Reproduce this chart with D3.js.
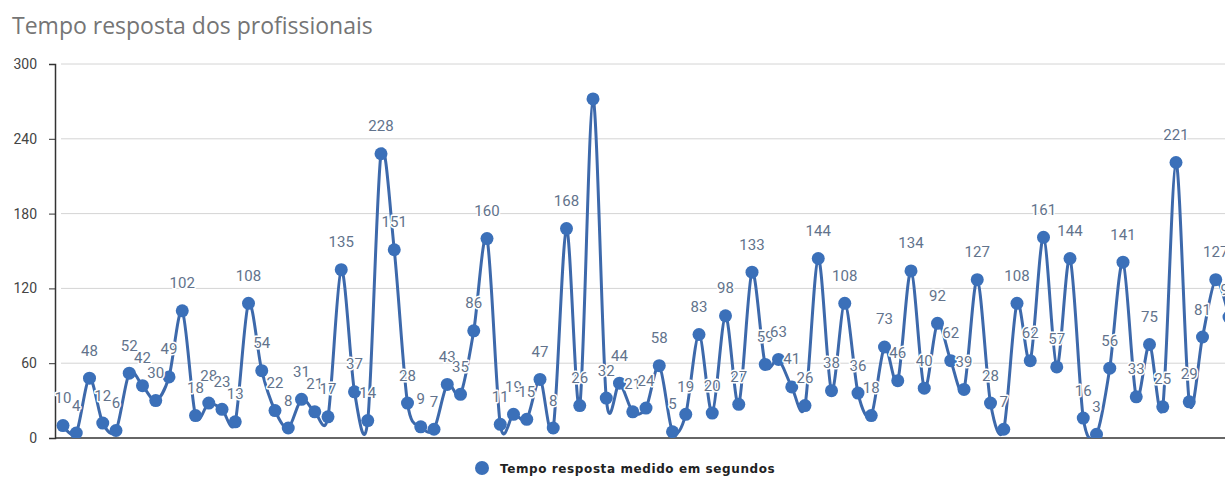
<!DOCTYPE html>
<html>
<head>
<meta charset="utf-8">
<script src="https://cdn.jsdelivr.net/npm/d3@7"></script>
<style>
    body { margin: 0; background: #fff; }
    svg { display: block; }
    .axis text { font-family: Roboto, sans-serif; font-size: 14px; fill: #444; }
    .grid line { stroke: #d4d4d4; stroke-width: 1; }
    .lbl { font-family: Roboto, sans-serif; font-size: 15px; fill: #62738c;
           stroke: #fff; stroke-width: 3px; paint-order: stroke; stroke-linejoin: round; }
</style>
</head>
<body>
<svg id="chart" width="1225" height="477"></svg>
<script>
// tempo de resposta (segundos), um valor por atendimento
let respTimes = [10, 4, 48, 12, 6, 52, 42, 30, 49, 102,
    18, 28, 23, 13, 108, 54, 22, 8, 31, 21,
    17, 135, 37, 14, 228, 151, 28, 9, 7, 43,
    35, 86, 160, 11, 19, 15, 47, 8, 168, 26,
    272, 32, 44, 21, 24, 58, 5, 19, 83, 20,
    98, 27, 133, 59, 63, 41, 26, 144, 38, 108,
    36, 18, 73, 46, 134, 40, 92, 62, 39, 127,
    28, 7, 108, 62, 161, 57, 144, 16, 3, 56,
    141, 33, 75, 25, 221, 29, 81, 127, 97];
let yTicks = [0, 60, 120, 180, 240, 300];
let hiddenLabels = [40];   // annotation not shown in the original
let chartTitle = "Tempo resposta dos profissionais";
let seriesName = "Tempo resposta medido em segundos";

let blue = "#3b70b9";

let svg = d3.select("#chart"),
    margin = {top: 64, left: 55, bottom: 39},
    height = +svg.attr("height") - margin.top - margin.bottom,
    plotRight = 1240;

let x = d3.scaleLinear()
    .domain([0, respTimes.length - 1])
    .range([63, 1229]);

let y = d3.scaleLinear()
    .domain([0, 300])
    .range([margin.top + height, margin.top]);

svg.append("text")
    .attr("x", 12)
    .attr("y", 34)
    .style("font-family", "'Open Sans', sans-serif")
    .style("font-size", "23px")
    .style("fill", "#757575")
    .text(chartTitle);

// gridlines
svg.append("g")
    .attr("class", "grid")
    .selectAll("line")
    .data(yTicks.filter(function (d) { return d > 0; }))
    .enter().append("line")
    .attr("x1", margin.left + 6)
    .attr("x2", plotRight)
    .attr("y1", function (d) { return y(d); })
    .attr("y2", function (d) { return y(d); });

let yAxis = svg.append("g")
    .attr("class", "axis")
    .attr("transform", "translate(" + margin.left + ",0)")
    .call(d3.axisLeft(y).tickValues(yTicks).tickSize(6).tickPadding(12));
yAxis.select(".domain").attr("stroke", "#333").attr("stroke-width", 1.5);
yAxis.selectAll(".tick line").attr("stroke", "#333");

svg.append("line")
    .attr("x1", margin.left)
    .attr("x2", plotRight)
    .attr("y1", y(0))
    .attr("y2", y(0))
    .attr("stroke", "#333")
    .attr("stroke-width", 1.5);

svg.append("clipPath")
    .attr("id", "plot-clip")
    .append("rect")
    .attr("x", margin.left)
    .attr("y", 0)
    .attr("width", plotRight)
    .attr("height", y(0));

let plot = svg.append("g").attr("clip-path", "url(#plot-clip)");

let line = d3.line()
    .x(function (d, i) { return x(i); })
    .y(function (d) { return y(d); })
    .curve(d3.curveCardinal.tension(0.1));

plot.append("path")
    .datum(respTimes)
    .attr("fill", "none")
    .attr("stroke", "#3d69ab")
    .attr("stroke-width", 3)
    .attr("d", line);

plot.selectAll("circle")
    .data(respTimes)
    .enter().append("circle")
    .attr("cx", function (d, i) { return x(i); })
    .attr("cy", function (d) { return y(d); })
    .attr("r", 6.5)
    .attr("fill", blue);

// value annotations above each point
let labelData = respTimes
    .map(function (v, i) { return {i: i, v: v}; })
    .filter(function (d) { return hiddenLabels.indexOf(d.i) < 0; });

svg.append("g")
    .selectAll("text")
    .data(labelData)
    .enter().append("text")
    .attr("class", "lbl")
    .attr("text-anchor", "middle")
    .attr("x", function (d) { return x(d.i); })
    .attr("y", function (d) { return y(d.v) - 22.5; })
    .text(function (d) { return d.v; });

// legend
let legend = svg.append("g");
legend.append("circle")
    .attr("cx", 482)
    .attr("cy", 468)
    .attr("r", 7)
    .attr("fill", blue);
legend.append("text")
    .attr("x", 500)
    .attr("y", 472.5)
    .style("font-family", "'DejaVu Sans', sans-serif")
    .style("font-size", "12px")
    .style("font-weight", "600")
    .style("letter-spacing", "0.6px")
    .style("fill", "#222")
    .text(seriesName);
</script>
</body>
</html>
